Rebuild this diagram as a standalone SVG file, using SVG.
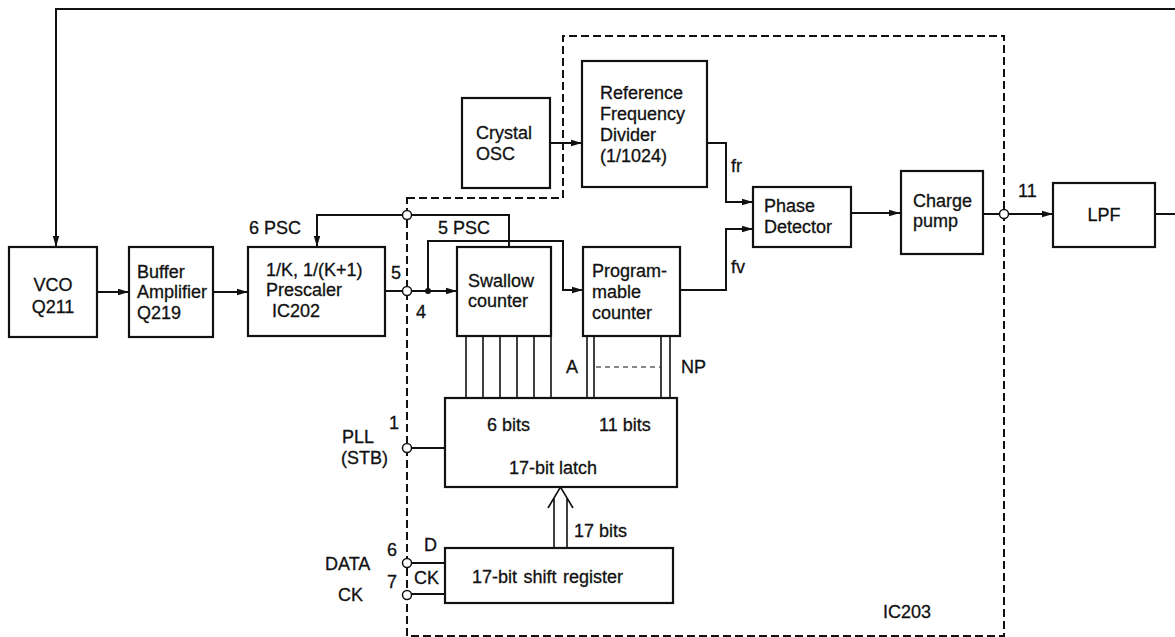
<svg xmlns="http://www.w3.org/2000/svg" width="1175" height="637" viewBox="0 0 1175 637">
<style>
.box{fill:#fff;stroke:#111;stroke-width:2.2}
.ln{fill:none;stroke:#111;stroke-width:2}
.thin{fill:none;stroke:#111;stroke-width:1.6}
.dash{fill:none;stroke:#111;stroke-width:2;stroke-dasharray:8 4}
.pin{fill:#fff;stroke:#111;stroke-width:1.5}
text{font-family:"Liberation Sans",Arial,sans-serif;font-size:18px;fill:#111;stroke:#111;stroke-width:0.3}
.c{text-anchor:middle}
</style>
<defs>
<marker id="ah" markerUnits="userSpaceOnUse" markerWidth="12" markerHeight="8" refX="11" refY="4" orient="auto">
<path d="M0,0.8 L11,4 L0,7.2 z" fill="#111"/>
</marker>
</defs>
<rect width="1175" height="637" fill="#fff"/>

<g id="ic203-boundary">
<path class="dash" d="M407,198 H563 V36 H1004 V636 H407 Z"/>
<text x="883" y="618">IC203</text>
</g>

<g id="connectors">
<path class="ln" d="M1175,9 H56 V247" marker-end="url(#ah)"/>
<path class="ln" d="M97,292 H129" marker-end="url(#ah)"/>
<path class="ln" d="M213,292 H248" marker-end="url(#ah)"/>
<path class="ln" d="M385,291 H457" marker-end="url(#ah)"/>
<path class="ln" d="M428,291 V241 H563 V290 H583" marker-end="url(#ah)"/>
<path class="ln" d="M509,247 V215 H317 V247" marker-end="url(#ah)"/>
<path class="ln" d="M550,143 H582" marker-end="url(#ah)"/>
<path class="ln" d="M707,143 H726 V202 H753" marker-end="url(#ah)"/>
<path class="ln" d="M680,290 H726 V229 H753" marker-end="url(#ah)"/>
<path class="ln" d="M851,213 H900" marker-end="url(#ah)"/>
<path class="ln" d="M983,214 H1053" marker-end="url(#ah)"/>
<path class="ln" d="M1155,214 H1175"/>
<path class="thin" d="M466,336 V398 M483,336 V398 M500,336 V398 M517,336 V398 M534,336 V398 M551,336 V398"/>
<path class="thin" d="M587,336 V398 M594,336 V398 M661,336 V398 M670,336 V398"/>
<path fill="none" stroke="#111" stroke-width="1" stroke-dasharray="5 4" d="M596,367 H660"/>
<path class="ln" d="M411,448 H445"/>
<path class="ln" d="M411,563 H445"/>
<path class="ln" d="M411,594 H445"/>
<path class="thin" d="M554,548 V498 M567,548 V498 M548,508 L560.5,487 L573,508"/>
<circle cx="428" cy="291" r="3" fill="#111"/>
<circle class="pin" cx="407" cy="215" r="4.5"/>
<circle class="pin" cx="407" cy="291" r="4.5"/>
<circle class="pin" cx="1004" cy="214" r="4.5"/>
<circle class="pin" cx="407" cy="448" r="4.5"/>
<circle class="pin" cx="407" cy="563" r="4.5"/>
<circle class="pin" cx="407" cy="595" r="4.5"/>
</g>

<g id="labels">
<text x="249" y="234">6 PSC</text>
<text x="438" y="234">5 PSC</text>
<text x="391" y="279">5</text>
<text x="416" y="318">4</text>
<text x="731" y="172">fr</text>
<text x="731" y="273">fv</text>
<text x="1018" y="197">11</text>
<text x="566" y="373">A</text>
<text x="681" y="373">NP</text>
<text x="389" y="429">1</text>
<text x="342" y="443">PLL</text>
<text x="341" y="464">(STB)</text>
<text x="387" y="556">6</text>
<text x="424" y="551">D</text>
<text x="325" y="570">DATA</text>
<text x="387" y="588">7</text>
<text x="414" y="584">CK</text>
<text x="338" y="601">CK</text>
<text x="574" y="537">17 bits</text>
</g>

<g id="vco">
<rect class="box" x="9" y="247" width="88" height="90"/>
<text class="c" x="53" y="291">VCO</text>
<text class="c" x="53" y="313">Q211</text>
</g>
<g id="buffer-amplifier">
<rect class="box" x="129" y="247" width="84" height="90"/>
<text x="137" y="278">Buffer</text>
<text x="137" y="298">Amplifier</text>
<text x="137" y="319">Q219</text>
</g>
<g id="prescaler">
<rect class="box" x="248" y="247" width="137" height="89"/>
<text x="266" y="276">1/K, 1/(K+1)</text>
<text x="266" y="296">Prescaler</text>
<text x="272" y="317">IC202</text>
</g>
<g id="crystal-osc">
<rect class="box" x="462" y="98" width="88" height="90"/>
<text x="476" y="139">Crystal</text>
<text x="476" y="160">OSC</text>
</g>
<g id="reference-divider">
<rect class="box" x="582" y="61" width="125" height="126"/>
<text x="600" y="99">Reference</text>
<text x="600" y="120">Frequency</text>
<text x="600" y="141">Divider</text>
<text x="600" y="162">(1/1024)</text>
</g>
<g id="swallow-counter">
<rect class="box" x="457" y="247" width="94" height="89"/>
<text x="468" y="287">Swallow</text>
<text x="468" y="307">counter</text>
</g>
<g id="programmable-counter">
<rect class="box" x="583" y="247" width="97" height="89"/>
<text x="592" y="277">Program-</text>
<text x="592" y="298">mable</text>
<text x="592" y="319">counter</text>
</g>
<g id="phase-detector">
<rect class="box" x="753" y="187" width="98" height="60"/>
<text x="764" y="212">Phase</text>
<text x="764" y="233">Detector</text>
</g>
<g id="charge-pump">
<rect class="box" x="901" y="171" width="82" height="83"/>
<text x="913" y="207">Charge</text>
<text x="913" y="227">pump</text>
</g>
<g id="lpf">
<rect class="box" x="1053" y="183" width="102" height="64"/>
<text class="c" x="1104" y="221">LPF</text>
</g>
<g id="latch">
<rect class="box" x="445" y="398" width="232" height="89"/>
<text x="487" y="431">6 bits</text>
<text x="599" y="431">11 bits</text>
<text x="509" y="474">17-bit latch</text>
</g>
<g id="shift-register">
<rect class="box" x="445" y="548" width="228" height="55"/>
<text x="472" y="583" word-spacing="1.5">17-bit shift register</text>
</g>
</svg>
